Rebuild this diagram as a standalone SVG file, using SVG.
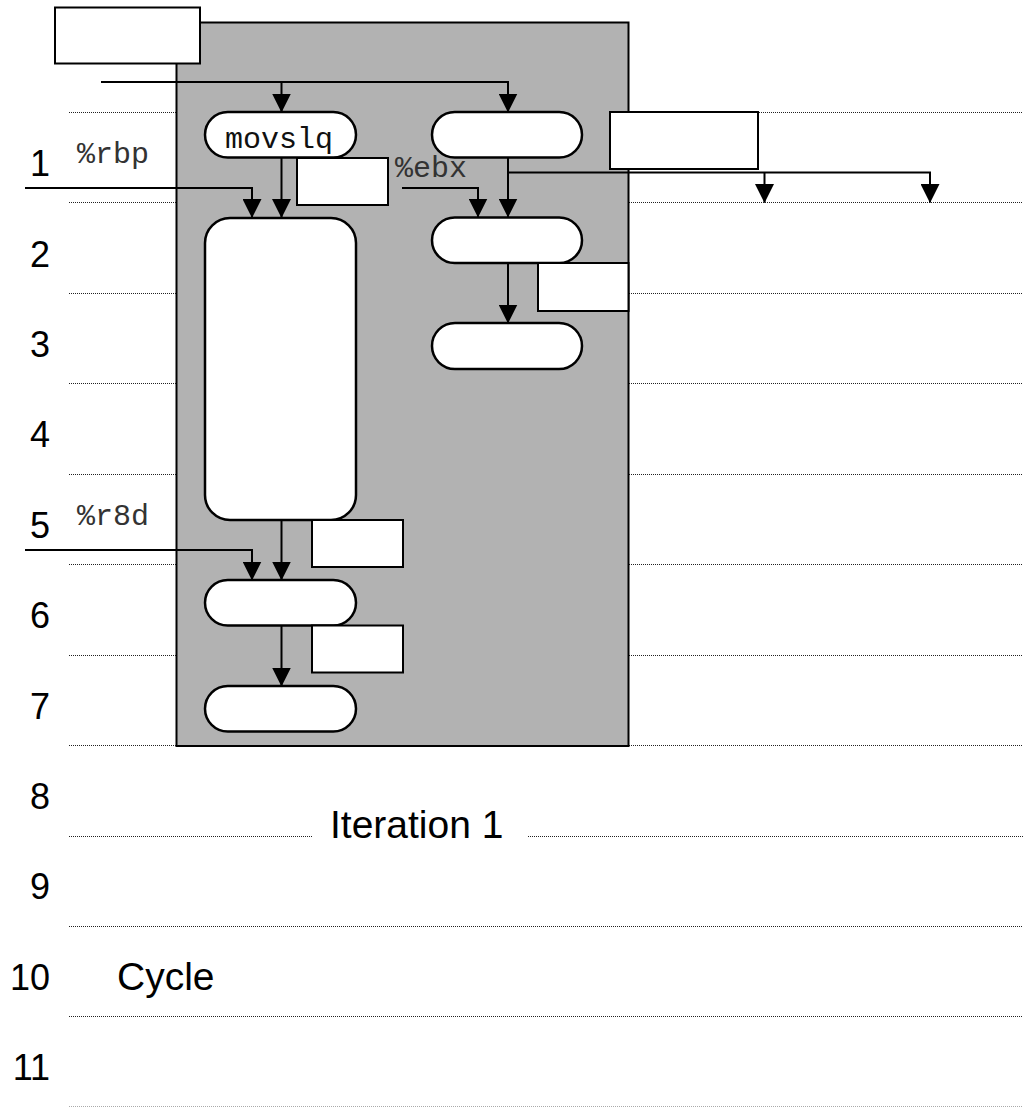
<svg xmlns="http://www.w3.org/2000/svg" width="1023" height="1108" viewBox="0 0 1023 1108">
<style>
.grid{stroke:#222;stroke-width:1;stroke-dasharray:1 1;fill:none}
.row{font-family:"Liberation Sans",Arial,sans-serif;font-size:36px;fill:#000;text-anchor:end}
.big{font-family:"Liberation Sans",Arial,sans-serif;font-size:39px;fill:#000}
.mono{font-family:"Liberation Mono","Courier New",monospace;font-size:30px;fill:#333}
.pill{fill:#fff;stroke:#000;stroke-width:2.5}
.box{fill:#fff;stroke:#000;stroke-width:2}
.conn{fill:none;stroke:#000;stroke-width:2}
</style>
<defs>
<marker id="arr" viewBox="0 0 19 19" markerWidth="19" markerHeight="19" refX="18.5" refY="9.5" orient="auto" markerUnits="userSpaceOnUse">
<path d="M0,0 L19,9.5 L0,19 Z" fill="#000"/>
</marker>
</defs>
<rect width="1023" height="1108" fill="#fff"/>
<g id="grid">
<line class="grid" x1="69" y1="112.5" x2="1023" y2="112.5"/>
<line class="grid" x1="69" y1="202.5" x2="1023" y2="202.5"/>
<line class="grid" x1="69" y1="293.5" x2="1023" y2="293.5"/>
<line class="grid" x1="69" y1="383.5" x2="1023" y2="383.5"/>
<line class="grid" x1="69" y1="474.5" x2="1023" y2="474.5"/>
<line class="grid" x1="69" y1="564.5" x2="1023" y2="564.5"/>
<line class="grid" x1="69" y1="655.5" x2="1023" y2="655.5"/>
<line class="grid" x1="69" y1="745.5" x2="1023" y2="745.5"/>
<line class="grid" x1="69" y1="836.5" x2="312" y2="836.5"/>
<line class="grid" x1="528" y1="836.5" x2="1023" y2="836.5"/>
<line class="grid" x1="69" y1="926.5" x2="1023" y2="926.5"/>
<line class="grid" x1="69" y1="1016.5" x2="1023" y2="1016.5"/>
<line class="grid" x1="69" y1="1106.5" x2="1023" y2="1106.5" style="stroke:#aaa"/>
</g>
<g id="row-labels">
<text class="row" x="50" y="176">1</text>
<text class="row" x="50" y="267">2</text>
<text class="row" x="50" y="357">3</text>
<text class="row" x="50" y="447">4</text>
<text class="row" x="50" y="538">5</text>
<text class="row" x="50" y="628">6</text>
<text class="row" x="50" y="719">7</text>
<text class="row" x="50" y="809">8</text>
<text class="row" x="50" y="899">9</text>
<text class="row" x="50" y="990">10</text>
<text class="row" x="50" y="1080">11</text>
</g>
<g id="iteration-region">
<rect x="176.5" y="22.5" width="452" height="723.5" fill="#b2b2b2" stroke="#000" stroke-width="2"/>
</g>
<g id="iteration-label"><text class="big" x="330" y="838">Iteration 1</text></g>
<g id="cycle-label"><text class="big" x="117" y="990">Cycle</text></g>
<g id="top-box"><rect class="box" x="55" y="7.5" width="145" height="56"/></g>
<g id="node-movslq">
<rect class="pill" x="205" y="112" width="151" height="45.5" rx="22.75"/>
<text class="mono" x="279" y="148" text-anchor="middle" style="fill:#111">movslq</text>
</g>
<g id="node-left-big"><rect class="pill" x="205" y="218" width="151" height="302" rx="25"/></g>
<g id="node-left-6"><rect class="pill" x="205" y="580" width="151" height="45.5" rx="22.75"/></g>
<g id="node-left-7"><rect class="pill" x="205" y="686" width="151" height="45.5" rx="22.75"/></g>
<g id="node-right-1"><rect class="pill" x="432" y="112" width="150" height="45.5" rx="22.75"/></g>
<g id="node-right-2"><rect class="pill" x="432" y="217.5" width="150" height="45.5" rx="22.75"/></g>
<g id="node-right-3"><rect class="pill" x="432" y="323" width="150" height="46" rx="23"/></g>
<g id="box-a"><rect class="box" x="297" y="158" width="91" height="47"/></g>
<g id="box-b"><rect class="box" x="610" y="112" width="148" height="57"/></g>
<g id="box-c"><rect class="box" x="538" y="263" width="90.5" height="48"/></g>
<g id="box-d"><rect class="box" x="312" y="520" width="91" height="47"/></g>
<g id="box-e"><rect class="box" x="312" y="625.5" width="91" height="47"/></g>
<g id="reg-labels">
<text class="mono" x="77" y="163">%rbp</text>
<text class="mono" x="395" y="177">%ebx</text>
<text class="mono" x="77" y="525">%r8d</text>
</g>
<g id="connectors">
<path class="conn" d="M101,82 H508 V112" marker-end="url(#arr)"/>
<path class="conn" d="M281.5,82 V112" marker-end="url(#arr)"/>
<path class="conn" d="M25,188 H252 V217.5" marker-end="url(#arr)"/>
<path class="conn" d="M281.5,157.5 V217.5" marker-end="url(#arr)"/>
<path class="conn" d="M402,188 H478 V217" marker-end="url(#arr)"/>
<path class="conn" d="M508,157.5 V217" marker-end="url(#arr)"/>
<path class="conn" d="M508,172.5 H930 V202.5" marker-end="url(#arr)"/>
<path class="conn" d="M764.5,172.5 V202.5" marker-end="url(#arr)"/>
<path class="conn" d="M508,263 V323" marker-end="url(#arr)"/>
<path class="conn" d="M281.5,520 V580" marker-end="url(#arr)"/>
<path class="conn" d="M25,550 H252 V580" marker-end="url(#arr)"/>
<path class="conn" d="M281.5,625.5 V686" marker-end="url(#arr)"/>
</g>
</svg>
